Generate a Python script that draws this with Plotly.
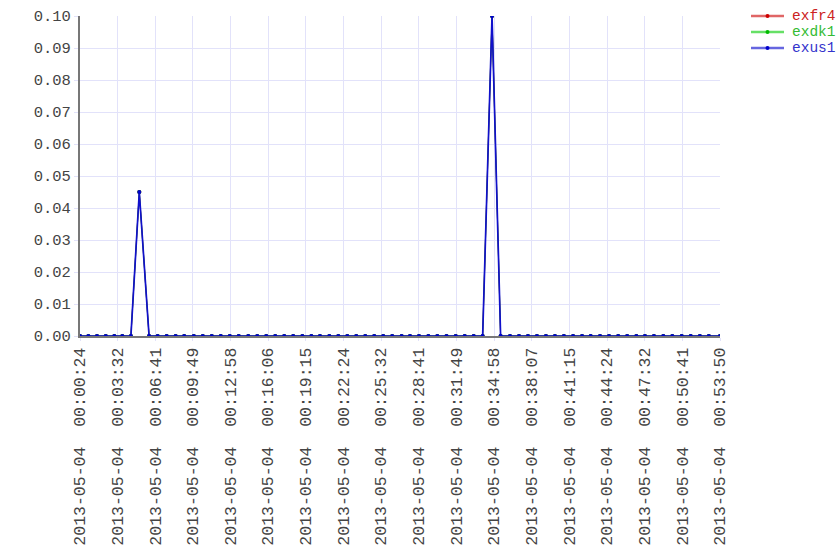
import plotly.graph_objects as go

date = "2013-05-04"
times = [
    "00:00:24", "00:01:06", "00:01:49", "00:02:33", "00:03:16", "00:03:56", "00:04:39", "00:05:21",
    "00:06:10", "00:06:53", "00:07:38", "00:08:23", "00:09:06", "00:09:54", "00:10:39", "00:11:24",
    "00:12:09", "00:12:54", "00:13:39", "00:14:27", "00:15:12", "00:15:57", "00:16:42", "00:17:27",
    "00:18:12", "00:18:58", "00:19:43", "00:20:26", "00:21:13", "00:21:58", "00:22:43", "00:23:28",
    "00:24:13", "00:24:58", "00:25:43", "00:26:28", "00:27:15", "00:27:57", "00:28:42", "00:29:29",
    "00:30:14", "00:31:00", "00:31:46", "00:32:31", "00:33:16", "00:34:01", "00:34:48", "00:35:31",
    "00:36:18", "00:37:03", "00:37:48", "00:38:33", "00:39:18", "00:40:03", "00:40:48", "00:41:34",
    "00:42:19", "00:43:02", "00:43:49", "00:44:34", "00:45:20", "00:46:05", "00:46:51", "00:47:34",
    "00:48:19", "00:49:06", "00:49:51", "00:50:38", "00:51:23", "00:52:09", "00:52:54", "00:53:50",
]

exus1 = [0, 0, 0, 0, 0, 0, 0, 0.045, 0, 0, 0, 0, 0, 0, 0, 0, 0, 0, 0, 0, 0, 0, 0, 0,
         0, 0, 0, 0, 0, 0, 0, 0, 0, 0, 0, 0, 0, 0, 0, 0, 0, 0, 0, 0, 0, 0, 0.10, 0,
         0, 0, 0, 0, 0, 0, 0, 0, 0, 0, 0, 0, 0, 0, 0, 0, 0, 0, 0, 0, 0, 0, 0, 0]
exfr4 = list(exus1)
exdk1 = list(exus1)

series_names = ["exfr4", "exdk1", "exus1"]

tick_times = ["00:00:24", "00:03:32", "00:06:41", "00:09:49", "00:12:58", "00:16:06",
              "00:19:15", "00:22:24", "00:25:32", "00:28:41", "00:31:49", "00:34:58",
              "00:38:07", "00:41:15", "00:44:24", "00:47:32", "00:50:41", "00:53:50"]
y_ticks = [0.00, 0.01, 0.02, 0.03, 0.04, 0.05, 0.06, 0.07, 0.08, 0.09, 0.10]

x = [f"{date} {t}" for t in times]
tickvals = [f"{date} {t}" for t in tick_times]
ticktext = [f"{date}\u00a0\u00a0{t}" for t in tick_times]

FONT = "Liberation Mono, Courier New, monospace"
W, H = 840, 560
ML, MT, MR, MB = 80, 16, 120, 224
PW, PH = W - ML - MR, H - MT - MB

def px_x(p):
    return (p - ML) / PW

def px_y(p):
    return (H - MB - p) / PH

# (plot line color, plot line width, legend line color, marker color, text color)
styles = {
    "exfr4": ("#cc0000", 1.0, "rgba(204,0,0,0.6)", "#cc0000", "#cc2222"),
    "exdk1": ("#00cc00", 1.0, "rgba(0,204,0,0.6)", "#00bb00", "#33bb33"),
    "exus1": ("#1010cc", 1.7, "rgba(0,0,204,0.6)", "#0000cc", "#3333cc"),
}
data = {"exfr4": exfr4, "exdk1": exdk1, "exus1": exus1}

fig = go.Figure()
for name in series_names:
    lc, lw, _, mc, tc = styles[name]
    fig.add_trace(go.Scatter(
        x=x, y=data[name], name=name,
        mode="lines+markers",
        line=dict(color=lc, width=lw),
        marker=dict(color=mc, size=4),
        showlegend=False,
    ))

# custom legend (compact rows)
shapes = []
annotations = []
for i, name in enumerate(series_names):
    _, _, llc, mc, tc = styles[name]
    row = 16 + 16 * i
    shapes.append(dict(type="line", xref="paper", yref="paper",
                       x0=px_x(751), x1=px_x(784), y0=px_y(row), y1=px_y(row),
                       line=dict(color=llc, width=2.5)))
    shapes.append(dict(type="circle", xref="paper", yref="paper",
                       x0=px_x(765.5), x1=px_x(769.5), y0=px_y(row + 2), y1=px_y(row - 2),
                       fillcolor=mc, line=dict(color=mc, width=0)))
    annotations.append(dict(xref="paper", yref="paper", x=px_x(792), y=px_y(row),
                            xanchor="left", yanchor="middle", showarrow=False,
                            borderpad=0, borderwidth=0,
                            text=name, font=dict(family=FONT, size=14.5, color=tc)))

fig.update_layout(
    width=W, height=H,
    margin=dict(l=ML, r=MR, t=MT, b=MB, pad=0),
    paper_bgcolor="white", plot_bgcolor="white",
    font=dict(family=FONT, size=16, color="#444444"),
    showlegend=False,
    shapes=shapes, annotations=annotations,
)
fig.update_xaxes(
    type="date", range=[x[0], x[-1]], automargin=False,
    tickmode="array", tickvals=tickvals, ticktext=ticktext, tickangle=-90,
    showgrid=True, gridcolor="#e2e2fa", gridwidth=1,
    ticks="outside", ticklen=3, tickcolor="#e2e2fa",
    showline=True, linecolor="#777777", linewidth=2,
    zeroline=False, ticklabeloverflow="allow",
    tickfont=dict(family=FONT, size=16.5, color="#444444"),
)
fig.update_yaxes(
    range=[0, 0.10], automargin=False, tickmode="array", tickvals=y_ticks,
    ticktext=[f"{v:.2f}" for v in y_ticks],
    showgrid=True, gridcolor="#e2e2fa", gridwidth=1,
    ticks="outside", ticklen=4, tickcolor="#e2e2fa",
    showline=True, linecolor="#777777", linewidth=2,
    zeroline=False, ticklabeloverflow="allow",
    tickfont=dict(family=FONT, size=15.5, color="#444444"),
)

fig.write_html(
    "out.html",
    config={"displayModeBar": False},
    post_script="document.body.style.margin='0';document.body.style.overflow='hidden';"
                "document.documentElement.style.overflow='hidden';",
)
